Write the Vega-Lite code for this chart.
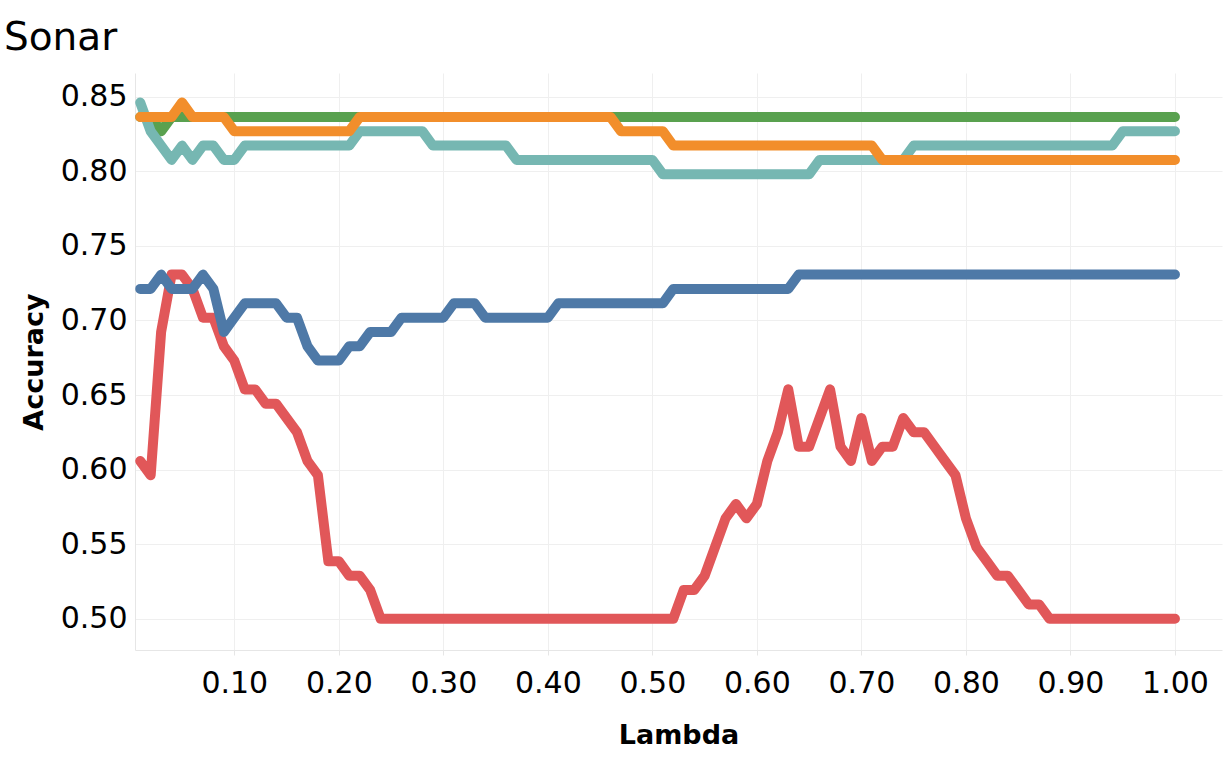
{
  "$schema": "https://vega.github.io/schema/vega-lite/v6.json",
  "autosize": {"type": "none"},
  "padding": {"left": 135, "top": 73, "right": 10, "bottom": 111},
  "width": 1087,
  "height": 577,
  "background": "white",
  "title": {
    "text": "Sonar",
    "anchor": "start",
    "frame": "group",
    "dx": -131,
    "offset": 15,
    "font": "DejaVu Sans",
    "fontSize": 39,
    "fontWeight": "normal",
    "color": "#000000"
  },
  "data": {
    "values": [
      {"lambda": 0.01, "model": "A", "accuracy": 0.6058},
      {"lambda": 0.02, "model": "A", "accuracy": 0.5962},
      {"lambda": 0.03, "model": "A", "accuracy": 0.6923},
      {"lambda": 0.04, "model": "A", "accuracy": 0.7308},
      {"lambda": 0.05, "model": "A", "accuracy": 0.7308},
      {"lambda": 0.06, "model": "A", "accuracy": 0.7212},
      {"lambda": 0.07, "model": "A", "accuracy": 0.7019},
      {"lambda": 0.08, "model": "A", "accuracy": 0.7019},
      {"lambda": 0.09, "model": "A", "accuracy": 0.6827},
      {"lambda": 0.10, "model": "A", "accuracy": 0.6731},
      {"lambda": 0.11, "model": "A", "accuracy": 0.6538},
      {"lambda": 0.12, "model": "A", "accuracy": 0.6538},
      {"lambda": 0.13, "model": "A", "accuracy": 0.6442},
      {"lambda": 0.14, "model": "A", "accuracy": 0.6442},
      {"lambda": 0.15, "model": "A", "accuracy": 0.6346},
      {"lambda": 0.16, "model": "A", "accuracy": 0.625},
      {"lambda": 0.17, "model": "A", "accuracy": 0.6058},
      {"lambda": 0.18, "model": "A", "accuracy": 0.5962},
      {"lambda": 0.19, "model": "A", "accuracy": 0.5385},
      {"lambda": 0.20, "model": "A", "accuracy": 0.5385},
      {"lambda": 0.21, "model": "A", "accuracy": 0.5288},
      {"lambda": 0.22, "model": "A", "accuracy": 0.5288},
      {"lambda": 0.23, "model": "A", "accuracy": 0.5192},
      {"lambda": 0.24, "model": "A", "accuracy": 0.5},
      {"lambda": 0.25, "model": "A", "accuracy": 0.5},
      {"lambda": 0.26, "model": "A", "accuracy": 0.5},
      {"lambda": 0.27, "model": "A", "accuracy": 0.5},
      {"lambda": 0.28, "model": "A", "accuracy": 0.5},
      {"lambda": 0.29, "model": "A", "accuracy": 0.5},
      {"lambda": 0.30, "model": "A", "accuracy": 0.5},
      {"lambda": 0.31, "model": "A", "accuracy": 0.5},
      {"lambda": 0.32, "model": "A", "accuracy": 0.5},
      {"lambda": 0.33, "model": "A", "accuracy": 0.5},
      {"lambda": 0.34, "model": "A", "accuracy": 0.5},
      {"lambda": 0.35, "model": "A", "accuracy": 0.5},
      {"lambda": 0.36, "model": "A", "accuracy": 0.5},
      {"lambda": 0.37, "model": "A", "accuracy": 0.5},
      {"lambda": 0.38, "model": "A", "accuracy": 0.5},
      {"lambda": 0.39, "model": "A", "accuracy": 0.5},
      {"lambda": 0.40, "model": "A", "accuracy": 0.5},
      {"lambda": 0.41, "model": "A", "accuracy": 0.5},
      {"lambda": 0.42, "model": "A", "accuracy": 0.5},
      {"lambda": 0.43, "model": "A", "accuracy": 0.5},
      {"lambda": 0.44, "model": "A", "accuracy": 0.5},
      {"lambda": 0.45, "model": "A", "accuracy": 0.5},
      {"lambda": 0.46, "model": "A", "accuracy": 0.5},
      {"lambda": 0.47, "model": "A", "accuracy": 0.5},
      {"lambda": 0.48, "model": "A", "accuracy": 0.5},
      {"lambda": 0.49, "model": "A", "accuracy": 0.5},
      {"lambda": 0.50, "model": "A", "accuracy": 0.5},
      {"lambda": 0.51, "model": "A", "accuracy": 0.5},
      {"lambda": 0.52, "model": "A", "accuracy": 0.5},
      {"lambda": 0.53, "model": "A", "accuracy": 0.5192},
      {"lambda": 0.54, "model": "A", "accuracy": 0.5192},
      {"lambda": 0.55, "model": "A", "accuracy": 0.5288},
      {"lambda": 0.56, "model": "A", "accuracy": 0.5481},
      {"lambda": 0.57, "model": "A", "accuracy": 0.5673},
      {"lambda": 0.58, "model": "A", "accuracy": 0.5769},
      {"lambda": 0.59, "model": "A", "accuracy": 0.5673},
      {"lambda": 0.60, "model": "A", "accuracy": 0.5769},
      {"lambda": 0.61, "model": "A", "accuracy": 0.6058},
      {"lambda": 0.62, "model": "A", "accuracy": 0.625},
      {"lambda": 0.63, "model": "A", "accuracy": 0.6538},
      {"lambda": 0.64, "model": "A", "accuracy": 0.6154},
      {"lambda": 0.65, "model": "A", "accuracy": 0.6154},
      {"lambda": 0.66, "model": "A", "accuracy": 0.6346},
      {"lambda": 0.67, "model": "A", "accuracy": 0.6538},
      {"lambda": 0.68, "model": "A", "accuracy": 0.6154},
      {"lambda": 0.69, "model": "A", "accuracy": 0.6058},
      {"lambda": 0.70, "model": "A", "accuracy": 0.6346},
      {"lambda": 0.71, "model": "A", "accuracy": 0.6058},
      {"lambda": 0.72, "model": "A", "accuracy": 0.6154},
      {"lambda": 0.73, "model": "A", "accuracy": 0.6154},
      {"lambda": 0.74, "model": "A", "accuracy": 0.6346},
      {"lambda": 0.75, "model": "A", "accuracy": 0.625},
      {"lambda": 0.76, "model": "A", "accuracy": 0.625},
      {"lambda": 0.77, "model": "A", "accuracy": 0.6154},
      {"lambda": 0.78, "model": "A", "accuracy": 0.6058},
      {"lambda": 0.79, "model": "A", "accuracy": 0.5962},
      {"lambda": 0.80, "model": "A", "accuracy": 0.5673},
      {"lambda": 0.81, "model": "A", "accuracy": 0.5481},
      {"lambda": 0.82, "model": "A", "accuracy": 0.5385},
      {"lambda": 0.83, "model": "A", "accuracy": 0.5288},
      {"lambda": 0.84, "model": "A", "accuracy": 0.5288},
      {"lambda": 0.85, "model": "A", "accuracy": 0.5192},
      {"lambda": 0.86, "model": "A", "accuracy": 0.5096},
      {"lambda": 0.87, "model": "A", "accuracy": 0.5096},
      {"lambda": 0.88, "model": "A", "accuracy": 0.5},
      {"lambda": 0.89, "model": "A", "accuracy": 0.5},
      {"lambda": 0.90, "model": "A", "accuracy": 0.5},
      {"lambda": 0.91, "model": "A", "accuracy": 0.5},
      {"lambda": 0.92, "model": "A", "accuracy": 0.5},
      {"lambda": 0.93, "model": "A", "accuracy": 0.5},
      {"lambda": 0.94, "model": "A", "accuracy": 0.5},
      {"lambda": 0.95, "model": "A", "accuracy": 0.5},
      {"lambda": 0.96, "model": "A", "accuracy": 0.5},
      {"lambda": 0.97, "model": "A", "accuracy": 0.5},
      {"lambda": 0.98, "model": "A", "accuracy": 0.5},
      {"lambda": 0.99, "model": "A", "accuracy": 0.5},
      {"lambda": 1.00, "model": "A", "accuracy": 0.5},

      {"lambda": 0.01, "model": "B", "accuracy": 0.7212},
      {"lambda": 0.02, "model": "B", "accuracy": 0.7212},
      {"lambda": 0.03, "model": "B", "accuracy": 0.7308},
      {"lambda": 0.04, "model": "B", "accuracy": 0.7212},
      {"lambda": 0.05, "model": "B", "accuracy": 0.7212},
      {"lambda": 0.06, "model": "B", "accuracy": 0.7212},
      {"lambda": 0.07, "model": "B", "accuracy": 0.7308},
      {"lambda": 0.08, "model": "B", "accuracy": 0.7212},
      {"lambda": 0.09, "model": "B", "accuracy": 0.6923},
      {"lambda": 0.10, "model": "B", "accuracy": 0.7019},
      {"lambda": 0.11, "model": "B", "accuracy": 0.7115},
      {"lambda": 0.12, "model": "B", "accuracy": 0.7115},
      {"lambda": 0.13, "model": "B", "accuracy": 0.7115},
      {"lambda": 0.14, "model": "B", "accuracy": 0.7115},
      {"lambda": 0.15, "model": "B", "accuracy": 0.7019},
      {"lambda": 0.16, "model": "B", "accuracy": 0.7019},
      {"lambda": 0.17, "model": "B", "accuracy": 0.6827},
      {"lambda": 0.18, "model": "B", "accuracy": 0.6731},
      {"lambda": 0.19, "model": "B", "accuracy": 0.6731},
      {"lambda": 0.20, "model": "B", "accuracy": 0.6731},
      {"lambda": 0.21, "model": "B", "accuracy": 0.6827},
      {"lambda": 0.22, "model": "B", "accuracy": 0.6827},
      {"lambda": 0.23, "model": "B", "accuracy": 0.6923},
      {"lambda": 0.24, "model": "B", "accuracy": 0.6923},
      {"lambda": 0.25, "model": "B", "accuracy": 0.6923},
      {"lambda": 0.26, "model": "B", "accuracy": 0.7019},
      {"lambda": 0.27, "model": "B", "accuracy": 0.7019},
      {"lambda": 0.28, "model": "B", "accuracy": 0.7019},
      {"lambda": 0.29, "model": "B", "accuracy": 0.7019},
      {"lambda": 0.30, "model": "B", "accuracy": 0.7019},
      {"lambda": 0.31, "model": "B", "accuracy": 0.7115},
      {"lambda": 0.32, "model": "B", "accuracy": 0.7115},
      {"lambda": 0.33, "model": "B", "accuracy": 0.7115},
      {"lambda": 0.34, "model": "B", "accuracy": 0.7019},
      {"lambda": 0.35, "model": "B", "accuracy": 0.7019},
      {"lambda": 0.36, "model": "B", "accuracy": 0.7019},
      {"lambda": 0.37, "model": "B", "accuracy": 0.7019},
      {"lambda": 0.38, "model": "B", "accuracy": 0.7019},
      {"lambda": 0.39, "model": "B", "accuracy": 0.7019},
      {"lambda": 0.40, "model": "B", "accuracy": 0.7019},
      {"lambda": 0.41, "model": "B", "accuracy": 0.7115},
      {"lambda": 0.42, "model": "B", "accuracy": 0.7115},
      {"lambda": 0.43, "model": "B", "accuracy": 0.7115},
      {"lambda": 0.44, "model": "B", "accuracy": 0.7115},
      {"lambda": 0.45, "model": "B", "accuracy": 0.7115},
      {"lambda": 0.46, "model": "B", "accuracy": 0.7115},
      {"lambda": 0.47, "model": "B", "accuracy": 0.7115},
      {"lambda": 0.48, "model": "B", "accuracy": 0.7115},
      {"lambda": 0.49, "model": "B", "accuracy": 0.7115},
      {"lambda": 0.50, "model": "B", "accuracy": 0.7115},
      {"lambda": 0.51, "model": "B", "accuracy": 0.7115},
      {"lambda": 0.52, "model": "B", "accuracy": 0.7212},
      {"lambda": 0.53, "model": "B", "accuracy": 0.7212},
      {"lambda": 0.54, "model": "B", "accuracy": 0.7212},
      {"lambda": 0.55, "model": "B", "accuracy": 0.7212},
      {"lambda": 0.56, "model": "B", "accuracy": 0.7212},
      {"lambda": 0.57, "model": "B", "accuracy": 0.7212},
      {"lambda": 0.58, "model": "B", "accuracy": 0.7212},
      {"lambda": 0.59, "model": "B", "accuracy": 0.7212},
      {"lambda": 0.60, "model": "B", "accuracy": 0.7212},
      {"lambda": 0.61, "model": "B", "accuracy": 0.7212},
      {"lambda": 0.62, "model": "B", "accuracy": 0.7212},
      {"lambda": 0.63, "model": "B", "accuracy": 0.7212},
      {"lambda": 0.64, "model": "B", "accuracy": 0.7308},
      {"lambda": 0.65, "model": "B", "accuracy": 0.7308},
      {"lambda": 0.66, "model": "B", "accuracy": 0.7308},
      {"lambda": 0.67, "model": "B", "accuracy": 0.7308},
      {"lambda": 0.68, "model": "B", "accuracy": 0.7308},
      {"lambda": 0.69, "model": "B", "accuracy": 0.7308},
      {"lambda": 0.70, "model": "B", "accuracy": 0.7308},
      {"lambda": 0.71, "model": "B", "accuracy": 0.7308},
      {"lambda": 0.72, "model": "B", "accuracy": 0.7308},
      {"lambda": 0.73, "model": "B", "accuracy": 0.7308},
      {"lambda": 0.74, "model": "B", "accuracy": 0.7308},
      {"lambda": 0.75, "model": "B", "accuracy": 0.7308},
      {"lambda": 0.76, "model": "B", "accuracy": 0.7308},
      {"lambda": 0.77, "model": "B", "accuracy": 0.7308},
      {"lambda": 0.78, "model": "B", "accuracy": 0.7308},
      {"lambda": 0.79, "model": "B", "accuracy": 0.7308},
      {"lambda": 0.80, "model": "B", "accuracy": 0.7308},
      {"lambda": 0.81, "model": "B", "accuracy": 0.7308},
      {"lambda": 0.82, "model": "B", "accuracy": 0.7308},
      {"lambda": 0.83, "model": "B", "accuracy": 0.7308},
      {"lambda": 0.84, "model": "B", "accuracy": 0.7308},
      {"lambda": 0.85, "model": "B", "accuracy": 0.7308},
      {"lambda": 0.86, "model": "B", "accuracy": 0.7308},
      {"lambda": 0.87, "model": "B", "accuracy": 0.7308},
      {"lambda": 0.88, "model": "B", "accuracy": 0.7308},
      {"lambda": 0.89, "model": "B", "accuracy": 0.7308},
      {"lambda": 0.90, "model": "B", "accuracy": 0.7308},
      {"lambda": 0.91, "model": "B", "accuracy": 0.7308},
      {"lambda": 0.92, "model": "B", "accuracy": 0.7308},
      {"lambda": 0.93, "model": "B", "accuracy": 0.7308},
      {"lambda": 0.94, "model": "B", "accuracy": 0.7308},
      {"lambda": 0.95, "model": "B", "accuracy": 0.7308},
      {"lambda": 0.96, "model": "B", "accuracy": 0.7308},
      {"lambda": 0.97, "model": "B", "accuracy": 0.7308},
      {"lambda": 0.98, "model": "B", "accuracy": 0.7308},
      {"lambda": 0.99, "model": "B", "accuracy": 0.7308},
      {"lambda": 1.00, "model": "B", "accuracy": 0.7308},

      {"lambda": 0.01, "model": "C", "accuracy": 0.8365},
      {"lambda": 0.02, "model": "C", "accuracy": 0.8365},
      {"lambda": 0.03, "model": "C", "accuracy": 0.8269},
      {"lambda": 0.04, "model": "C", "accuracy": 0.8365},
      {"lambda": 0.05, "model": "C", "accuracy": 0.8365},
      {"lambda": 0.06, "model": "C", "accuracy": 0.8365},
      {"lambda": 0.07, "model": "C", "accuracy": 0.8365},
      {"lambda": 0.08, "model": "C", "accuracy": 0.8365},
      {"lambda": 0.09, "model": "C", "accuracy": 0.8365},
      {"lambda": 0.10, "model": "C", "accuracy": 0.8365},
      {"lambda": 0.11, "model": "C", "accuracy": 0.8365},
      {"lambda": 0.12, "model": "C", "accuracy": 0.8365},
      {"lambda": 0.13, "model": "C", "accuracy": 0.8365},
      {"lambda": 0.14, "model": "C", "accuracy": 0.8365},
      {"lambda": 0.15, "model": "C", "accuracy": 0.8365},
      {"lambda": 0.16, "model": "C", "accuracy": 0.8365},
      {"lambda": 0.17, "model": "C", "accuracy": 0.8365},
      {"lambda": 0.18, "model": "C", "accuracy": 0.8365},
      {"lambda": 0.19, "model": "C", "accuracy": 0.8365},
      {"lambda": 0.20, "model": "C", "accuracy": 0.8365},
      {"lambda": 0.21, "model": "C", "accuracy": 0.8365},
      {"lambda": 0.22, "model": "C", "accuracy": 0.8365},
      {"lambda": 0.23, "model": "C", "accuracy": 0.8365},
      {"lambda": 0.24, "model": "C", "accuracy": 0.8365},
      {"lambda": 0.25, "model": "C", "accuracy": 0.8365},
      {"lambda": 0.26, "model": "C", "accuracy": 0.8365},
      {"lambda": 0.27, "model": "C", "accuracy": 0.8365},
      {"lambda": 0.28, "model": "C", "accuracy": 0.8365},
      {"lambda": 0.29, "model": "C", "accuracy": 0.8365},
      {"lambda": 0.30, "model": "C", "accuracy": 0.8365},
      {"lambda": 0.31, "model": "C", "accuracy": 0.8365},
      {"lambda": 0.32, "model": "C", "accuracy": 0.8365},
      {"lambda": 0.33, "model": "C", "accuracy": 0.8365},
      {"lambda": 0.34, "model": "C", "accuracy": 0.8365},
      {"lambda": 0.35, "model": "C", "accuracy": 0.8365},
      {"lambda": 0.36, "model": "C", "accuracy": 0.8365},
      {"lambda": 0.37, "model": "C", "accuracy": 0.8365},
      {"lambda": 0.38, "model": "C", "accuracy": 0.8365},
      {"lambda": 0.39, "model": "C", "accuracy": 0.8365},
      {"lambda": 0.40, "model": "C", "accuracy": 0.8365},
      {"lambda": 0.41, "model": "C", "accuracy": 0.8365},
      {"lambda": 0.42, "model": "C", "accuracy": 0.8365},
      {"lambda": 0.43, "model": "C", "accuracy": 0.8365},
      {"lambda": 0.44, "model": "C", "accuracy": 0.8365},
      {"lambda": 0.45, "model": "C", "accuracy": 0.8365},
      {"lambda": 0.46, "model": "C", "accuracy": 0.8365},
      {"lambda": 0.47, "model": "C", "accuracy": 0.8365},
      {"lambda": 0.48, "model": "C", "accuracy": 0.8365},
      {"lambda": 0.49, "model": "C", "accuracy": 0.8365},
      {"lambda": 0.50, "model": "C", "accuracy": 0.8365},
      {"lambda": 0.51, "model": "C", "accuracy": 0.8365},
      {"lambda": 0.52, "model": "C", "accuracy": 0.8365},
      {"lambda": 0.53, "model": "C", "accuracy": 0.8365},
      {"lambda": 0.54, "model": "C", "accuracy": 0.8365},
      {"lambda": 0.55, "model": "C", "accuracy": 0.8365},
      {"lambda": 0.56, "model": "C", "accuracy": 0.8365},
      {"lambda": 0.57, "model": "C", "accuracy": 0.8365},
      {"lambda": 0.58, "model": "C", "accuracy": 0.8365},
      {"lambda": 0.59, "model": "C", "accuracy": 0.8365},
      {"lambda": 0.60, "model": "C", "accuracy": 0.8365},
      {"lambda": 0.61, "model": "C", "accuracy": 0.8365},
      {"lambda": 0.62, "model": "C", "accuracy": 0.8365},
      {"lambda": 0.63, "model": "C", "accuracy": 0.8365},
      {"lambda": 0.64, "model": "C", "accuracy": 0.8365},
      {"lambda": 0.65, "model": "C", "accuracy": 0.8365},
      {"lambda": 0.66, "model": "C", "accuracy": 0.8365},
      {"lambda": 0.67, "model": "C", "accuracy": 0.8365},
      {"lambda": 0.68, "model": "C", "accuracy": 0.8365},
      {"lambda": 0.69, "model": "C", "accuracy": 0.8365},
      {"lambda": 0.70, "model": "C", "accuracy": 0.8365},
      {"lambda": 0.71, "model": "C", "accuracy": 0.8365},
      {"lambda": 0.72, "model": "C", "accuracy": 0.8365},
      {"lambda": 0.73, "model": "C", "accuracy": 0.8365},
      {"lambda": 0.74, "model": "C", "accuracy": 0.8365},
      {"lambda": 0.75, "model": "C", "accuracy": 0.8365},
      {"lambda": 0.76, "model": "C", "accuracy": 0.8365},
      {"lambda": 0.77, "model": "C", "accuracy": 0.8365},
      {"lambda": 0.78, "model": "C", "accuracy": 0.8365},
      {"lambda": 0.79, "model": "C", "accuracy": 0.8365},
      {"lambda": 0.80, "model": "C", "accuracy": 0.8365},
      {"lambda": 0.81, "model": "C", "accuracy": 0.8365},
      {"lambda": 0.82, "model": "C", "accuracy": 0.8365},
      {"lambda": 0.83, "model": "C", "accuracy": 0.8365},
      {"lambda": 0.84, "model": "C", "accuracy": 0.8365},
      {"lambda": 0.85, "model": "C", "accuracy": 0.8365},
      {"lambda": 0.86, "model": "C", "accuracy": 0.8365},
      {"lambda": 0.87, "model": "C", "accuracy": 0.8365},
      {"lambda": 0.88, "model": "C", "accuracy": 0.8365},
      {"lambda": 0.89, "model": "C", "accuracy": 0.8365},
      {"lambda": 0.90, "model": "C", "accuracy": 0.8365},
      {"lambda": 0.91, "model": "C", "accuracy": 0.8365},
      {"lambda": 0.92, "model": "C", "accuracy": 0.8365},
      {"lambda": 0.93, "model": "C", "accuracy": 0.8365},
      {"lambda": 0.94, "model": "C", "accuracy": 0.8365},
      {"lambda": 0.95, "model": "C", "accuracy": 0.8365},
      {"lambda": 0.96, "model": "C", "accuracy": 0.8365},
      {"lambda": 0.97, "model": "C", "accuracy": 0.8365},
      {"lambda": 0.98, "model": "C", "accuracy": 0.8365},
      {"lambda": 0.99, "model": "C", "accuracy": 0.8365},
      {"lambda": 1.00, "model": "C", "accuracy": 0.8365},

      {"lambda": 0.01, "model": "D", "accuracy": 0.8462},
      {"lambda": 0.02, "model": "D", "accuracy": 0.8269},
      {"lambda": 0.03, "model": "D", "accuracy": 0.8173},
      {"lambda": 0.04, "model": "D", "accuracy": 0.8077},
      {"lambda": 0.05, "model": "D", "accuracy": 0.8173},
      {"lambda": 0.06, "model": "D", "accuracy": 0.8077},
      {"lambda": 0.07, "model": "D", "accuracy": 0.8173},
      {"lambda": 0.08, "model": "D", "accuracy": 0.8173},
      {"lambda": 0.09, "model": "D", "accuracy": 0.8077},
      {"lambda": 0.10, "model": "D", "accuracy": 0.8077},
      {"lambda": 0.11, "model": "D", "accuracy": 0.8173},
      {"lambda": 0.12, "model": "D", "accuracy": 0.8173},
      {"lambda": 0.13, "model": "D", "accuracy": 0.8173},
      {"lambda": 0.14, "model": "D", "accuracy": 0.8173},
      {"lambda": 0.15, "model": "D", "accuracy": 0.8173},
      {"lambda": 0.16, "model": "D", "accuracy": 0.8173},
      {"lambda": 0.17, "model": "D", "accuracy": 0.8173},
      {"lambda": 0.18, "model": "D", "accuracy": 0.8173},
      {"lambda": 0.19, "model": "D", "accuracy": 0.8173},
      {"lambda": 0.20, "model": "D", "accuracy": 0.8173},
      {"lambda": 0.21, "model": "D", "accuracy": 0.8173},
      {"lambda": 0.22, "model": "D", "accuracy": 0.8269},
      {"lambda": 0.23, "model": "D", "accuracy": 0.8269},
      {"lambda": 0.24, "model": "D", "accuracy": 0.8269},
      {"lambda": 0.25, "model": "D", "accuracy": 0.8269},
      {"lambda": 0.26, "model": "D", "accuracy": 0.8269},
      {"lambda": 0.27, "model": "D", "accuracy": 0.8269},
      {"lambda": 0.28, "model": "D", "accuracy": 0.8269},
      {"lambda": 0.29, "model": "D", "accuracy": 0.8173},
      {"lambda": 0.30, "model": "D", "accuracy": 0.8173},
      {"lambda": 0.31, "model": "D", "accuracy": 0.8173},
      {"lambda": 0.32, "model": "D", "accuracy": 0.8173},
      {"lambda": 0.33, "model": "D", "accuracy": 0.8173},
      {"lambda": 0.34, "model": "D", "accuracy": 0.8173},
      {"lambda": 0.35, "model": "D", "accuracy": 0.8173},
      {"lambda": 0.36, "model": "D", "accuracy": 0.8173},
      {"lambda": 0.37, "model": "D", "accuracy": 0.8077},
      {"lambda": 0.38, "model": "D", "accuracy": 0.8077},
      {"lambda": 0.39, "model": "D", "accuracy": 0.8077},
      {"lambda": 0.40, "model": "D", "accuracy": 0.8077},
      {"lambda": 0.41, "model": "D", "accuracy": 0.8077},
      {"lambda": 0.42, "model": "D", "accuracy": 0.8077},
      {"lambda": 0.43, "model": "D", "accuracy": 0.8077},
      {"lambda": 0.44, "model": "D", "accuracy": 0.8077},
      {"lambda": 0.45, "model": "D", "accuracy": 0.8077},
      {"lambda": 0.46, "model": "D", "accuracy": 0.8077},
      {"lambda": 0.47, "model": "D", "accuracy": 0.8077},
      {"lambda": 0.48, "model": "D", "accuracy": 0.8077},
      {"lambda": 0.49, "model": "D", "accuracy": 0.8077},
      {"lambda": 0.50, "model": "D", "accuracy": 0.8077},
      {"lambda": 0.51, "model": "D", "accuracy": 0.7981},
      {"lambda": 0.52, "model": "D", "accuracy": 0.7981},
      {"lambda": 0.53, "model": "D", "accuracy": 0.7981},
      {"lambda": 0.54, "model": "D", "accuracy": 0.7981},
      {"lambda": 0.55, "model": "D", "accuracy": 0.7981},
      {"lambda": 0.56, "model": "D", "accuracy": 0.7981},
      {"lambda": 0.57, "model": "D", "accuracy": 0.7981},
      {"lambda": 0.58, "model": "D", "accuracy": 0.7981},
      {"lambda": 0.59, "model": "D", "accuracy": 0.7981},
      {"lambda": 0.60, "model": "D", "accuracy": 0.7981},
      {"lambda": 0.61, "model": "D", "accuracy": 0.7981},
      {"lambda": 0.62, "model": "D", "accuracy": 0.7981},
      {"lambda": 0.63, "model": "D", "accuracy": 0.7981},
      {"lambda": 0.64, "model": "D", "accuracy": 0.7981},
      {"lambda": 0.65, "model": "D", "accuracy": 0.7981},
      {"lambda": 0.66, "model": "D", "accuracy": 0.8077},
      {"lambda": 0.67, "model": "D", "accuracy": 0.8077},
      {"lambda": 0.68, "model": "D", "accuracy": 0.8077},
      {"lambda": 0.69, "model": "D", "accuracy": 0.8077},
      {"lambda": 0.70, "model": "D", "accuracy": 0.8077},
      {"lambda": 0.71, "model": "D", "accuracy": 0.8077},
      {"lambda": 0.72, "model": "D", "accuracy": 0.8077},
      {"lambda": 0.73, "model": "D", "accuracy": 0.8077},
      {"lambda": 0.74, "model": "D", "accuracy": 0.8077},
      {"lambda": 0.75, "model": "D", "accuracy": 0.8173},
      {"lambda": 0.76, "model": "D", "accuracy": 0.8173},
      {"lambda": 0.77, "model": "D", "accuracy": 0.8173},
      {"lambda": 0.78, "model": "D", "accuracy": 0.8173},
      {"lambda": 0.79, "model": "D", "accuracy": 0.8173},
      {"lambda": 0.80, "model": "D", "accuracy": 0.8173},
      {"lambda": 0.81, "model": "D", "accuracy": 0.8173},
      {"lambda": 0.82, "model": "D", "accuracy": 0.8173},
      {"lambda": 0.83, "model": "D", "accuracy": 0.8173},
      {"lambda": 0.84, "model": "D", "accuracy": 0.8173},
      {"lambda": 0.85, "model": "D", "accuracy": 0.8173},
      {"lambda": 0.86, "model": "D", "accuracy": 0.8173},
      {"lambda": 0.87, "model": "D", "accuracy": 0.8173},
      {"lambda": 0.88, "model": "D", "accuracy": 0.8173},
      {"lambda": 0.89, "model": "D", "accuracy": 0.8173},
      {"lambda": 0.90, "model": "D", "accuracy": 0.8173},
      {"lambda": 0.91, "model": "D", "accuracy": 0.8173},
      {"lambda": 0.92, "model": "D", "accuracy": 0.8173},
      {"lambda": 0.93, "model": "D", "accuracy": 0.8173},
      {"lambda": 0.94, "model": "D", "accuracy": 0.8173},
      {"lambda": 0.95, "model": "D", "accuracy": 0.8269},
      {"lambda": 0.96, "model": "D", "accuracy": 0.8269},
      {"lambda": 0.97, "model": "D", "accuracy": 0.8269},
      {"lambda": 0.98, "model": "D", "accuracy": 0.8269},
      {"lambda": 0.99, "model": "D", "accuracy": 0.8269},
      {"lambda": 1.00, "model": "D", "accuracy": 0.8269},

      {"lambda": 0.01, "model": "E", "accuracy": 0.8365},
      {"lambda": 0.02, "model": "E", "accuracy": 0.8365},
      {"lambda": 0.03, "model": "E", "accuracy": 0.8365},
      {"lambda": 0.04, "model": "E", "accuracy": 0.8365},
      {"lambda": 0.05, "model": "E", "accuracy": 0.8462},
      {"lambda": 0.06, "model": "E", "accuracy": 0.8365},
      {"lambda": 0.07, "model": "E", "accuracy": 0.8365},
      {"lambda": 0.08, "model": "E", "accuracy": 0.8365},
      {"lambda": 0.09, "model": "E", "accuracy": 0.8365},
      {"lambda": 0.10, "model": "E", "accuracy": 0.8269},
      {"lambda": 0.11, "model": "E", "accuracy": 0.8269},
      {"lambda": 0.12, "model": "E", "accuracy": 0.8269},
      {"lambda": 0.13, "model": "E", "accuracy": 0.8269},
      {"lambda": 0.14, "model": "E", "accuracy": 0.8269},
      {"lambda": 0.15, "model": "E", "accuracy": 0.8269},
      {"lambda": 0.16, "model": "E", "accuracy": 0.8269},
      {"lambda": 0.17, "model": "E", "accuracy": 0.8269},
      {"lambda": 0.18, "model": "E", "accuracy": 0.8269},
      {"lambda": 0.19, "model": "E", "accuracy": 0.8269},
      {"lambda": 0.20, "model": "E", "accuracy": 0.8269},
      {"lambda": 0.21, "model": "E", "accuracy": 0.8269},
      {"lambda": 0.22, "model": "E", "accuracy": 0.8365},
      {"lambda": 0.23, "model": "E", "accuracy": 0.8365},
      {"lambda": 0.24, "model": "E", "accuracy": 0.8365},
      {"lambda": 0.25, "model": "E", "accuracy": 0.8365},
      {"lambda": 0.26, "model": "E", "accuracy": 0.8365},
      {"lambda": 0.27, "model": "E", "accuracy": 0.8365},
      {"lambda": 0.28, "model": "E", "accuracy": 0.8365},
      {"lambda": 0.29, "model": "E", "accuracy": 0.8365},
      {"lambda": 0.30, "model": "E", "accuracy": 0.8365},
      {"lambda": 0.31, "model": "E", "accuracy": 0.8365},
      {"lambda": 0.32, "model": "E", "accuracy": 0.8365},
      {"lambda": 0.33, "model": "E", "accuracy": 0.8365},
      {"lambda": 0.34, "model": "E", "accuracy": 0.8365},
      {"lambda": 0.35, "model": "E", "accuracy": 0.8365},
      {"lambda": 0.36, "model": "E", "accuracy": 0.8365},
      {"lambda": 0.37, "model": "E", "accuracy": 0.8365},
      {"lambda": 0.38, "model": "E", "accuracy": 0.8365},
      {"lambda": 0.39, "model": "E", "accuracy": 0.8365},
      {"lambda": 0.40, "model": "E", "accuracy": 0.8365},
      {"lambda": 0.41, "model": "E", "accuracy": 0.8365},
      {"lambda": 0.42, "model": "E", "accuracy": 0.8365},
      {"lambda": 0.43, "model": "E", "accuracy": 0.8365},
      {"lambda": 0.44, "model": "E", "accuracy": 0.8365},
      {"lambda": 0.45, "model": "E", "accuracy": 0.8365},
      {"lambda": 0.46, "model": "E", "accuracy": 0.8365},
      {"lambda": 0.47, "model": "E", "accuracy": 0.8269},
      {"lambda": 0.48, "model": "E", "accuracy": 0.8269},
      {"lambda": 0.49, "model": "E", "accuracy": 0.8269},
      {"lambda": 0.50, "model": "E", "accuracy": 0.8269},
      {"lambda": 0.51, "model": "E", "accuracy": 0.8269},
      {"lambda": 0.52, "model": "E", "accuracy": 0.8173},
      {"lambda": 0.53, "model": "E", "accuracy": 0.8173},
      {"lambda": 0.54, "model": "E", "accuracy": 0.8173},
      {"lambda": 0.55, "model": "E", "accuracy": 0.8173},
      {"lambda": 0.56, "model": "E", "accuracy": 0.8173},
      {"lambda": 0.57, "model": "E", "accuracy": 0.8173},
      {"lambda": 0.58, "model": "E", "accuracy": 0.8173},
      {"lambda": 0.59, "model": "E", "accuracy": 0.8173},
      {"lambda": 0.60, "model": "E", "accuracy": 0.8173},
      {"lambda": 0.61, "model": "E", "accuracy": 0.8173},
      {"lambda": 0.62, "model": "E", "accuracy": 0.8173},
      {"lambda": 0.63, "model": "E", "accuracy": 0.8173},
      {"lambda": 0.64, "model": "E", "accuracy": 0.8173},
      {"lambda": 0.65, "model": "E", "accuracy": 0.8173},
      {"lambda": 0.66, "model": "E", "accuracy": 0.8173},
      {"lambda": 0.67, "model": "E", "accuracy": 0.8173},
      {"lambda": 0.68, "model": "E", "accuracy": 0.8173},
      {"lambda": 0.69, "model": "E", "accuracy": 0.8173},
      {"lambda": 0.70, "model": "E", "accuracy": 0.8173},
      {"lambda": 0.71, "model": "E", "accuracy": 0.8173},
      {"lambda": 0.72, "model": "E", "accuracy": 0.8077},
      {"lambda": 0.73, "model": "E", "accuracy": 0.8077},
      {"lambda": 0.74, "model": "E", "accuracy": 0.8077},
      {"lambda": 0.75, "model": "E", "accuracy": 0.8077},
      {"lambda": 0.76, "model": "E", "accuracy": 0.8077},
      {"lambda": 0.77, "model": "E", "accuracy": 0.8077},
      {"lambda": 0.78, "model": "E", "accuracy": 0.8077},
      {"lambda": 0.79, "model": "E", "accuracy": 0.8077},
      {"lambda": 0.80, "model": "E", "accuracy": 0.8077},
      {"lambda": 0.81, "model": "E", "accuracy": 0.8077},
      {"lambda": 0.82, "model": "E", "accuracy": 0.8077},
      {"lambda": 0.83, "model": "E", "accuracy": 0.8077},
      {"lambda": 0.84, "model": "E", "accuracy": 0.8077},
      {"lambda": 0.85, "model": "E", "accuracy": 0.8077},
      {"lambda": 0.86, "model": "E", "accuracy": 0.8077},
      {"lambda": 0.87, "model": "E", "accuracy": 0.8077},
      {"lambda": 0.88, "model": "E", "accuracy": 0.8077},
      {"lambda": 0.89, "model": "E", "accuracy": 0.8077},
      {"lambda": 0.90, "model": "E", "accuracy": 0.8077},
      {"lambda": 0.91, "model": "E", "accuracy": 0.8077},
      {"lambda": 0.92, "model": "E", "accuracy": 0.8077},
      {"lambda": 0.93, "model": "E", "accuracy": 0.8077},
      {"lambda": 0.94, "model": "E", "accuracy": 0.8077},
      {"lambda": 0.95, "model": "E", "accuracy": 0.8077},
      {"lambda": 0.96, "model": "E", "accuracy": 0.8077},
      {"lambda": 0.97, "model": "E", "accuracy": 0.8077},
      {"lambda": 0.98, "model": "E", "accuracy": 0.8077},
      {"lambda": 0.99, "model": "E", "accuracy": 0.8077},
      {"lambda": 1.00, "model": "E", "accuracy": 0.8077}
    ]
  },
  "mark": {"type": "line", "strokeWidth": 10, "strokeCap": "round", "strokeJoin": "round"},
  "encoding": {
    "x": {
      "field": "lambda",
      "type": "quantitative",
      "scale": {"domain": [0.005, 1.045], "nice": false, "zero": false},
      "axis": {
        "title": "Lambda",
        "values": [0.1, 0.2, 0.3, 0.4, 0.5, 0.6, 0.7, 0.8, 0.9, 1.0],
        "format": ".2f",
        "labelPadding": 13,
        "tickSize": 5,
        "titlePadding": 24
      }
    },
    "y": {
      "field": "accuracy",
      "type": "quantitative",
      "scale": {"domain": [0.479, 0.866], "nice": false, "zero": false},
      "axis": {
        "title": "Accuracy",
        "values": [0.5, 0.55, 0.6, 0.65, 0.7, 0.75, 0.8, 0.85],
        "format": ".2f",
        "ticks": false,
        "labelPadding": 8,
        "titlePadding": 12
      }
    },
    "color": {
      "field": "model",
      "type": "nominal",
      "scale": {
        "domain": ["A", "B", "C", "D", "E"],
        "range": ["#e15759", "#4e79a7", "#59a14f", "#76b7b2", "#f28e2b"]
      },
      "legend": null
    }
  },
  "config": {
    "view": {"stroke": null},
    "axis": {
      "labelFont": "DejaVu Sans",
      "labelFontSize": 30,
      "labelColor": "#000000",
      "titleFont": "DejaVu Sans",
      "titleFontSize": 27,
      "titleFontWeight": "bold",
      "titleColor": "#000000",
      "gridColor": "#efefef",
      "gridWidth": 1,
      "domainColor": "#e6e6e6",
      "tickColor": "#e6e6e6"
    }
  }
}
